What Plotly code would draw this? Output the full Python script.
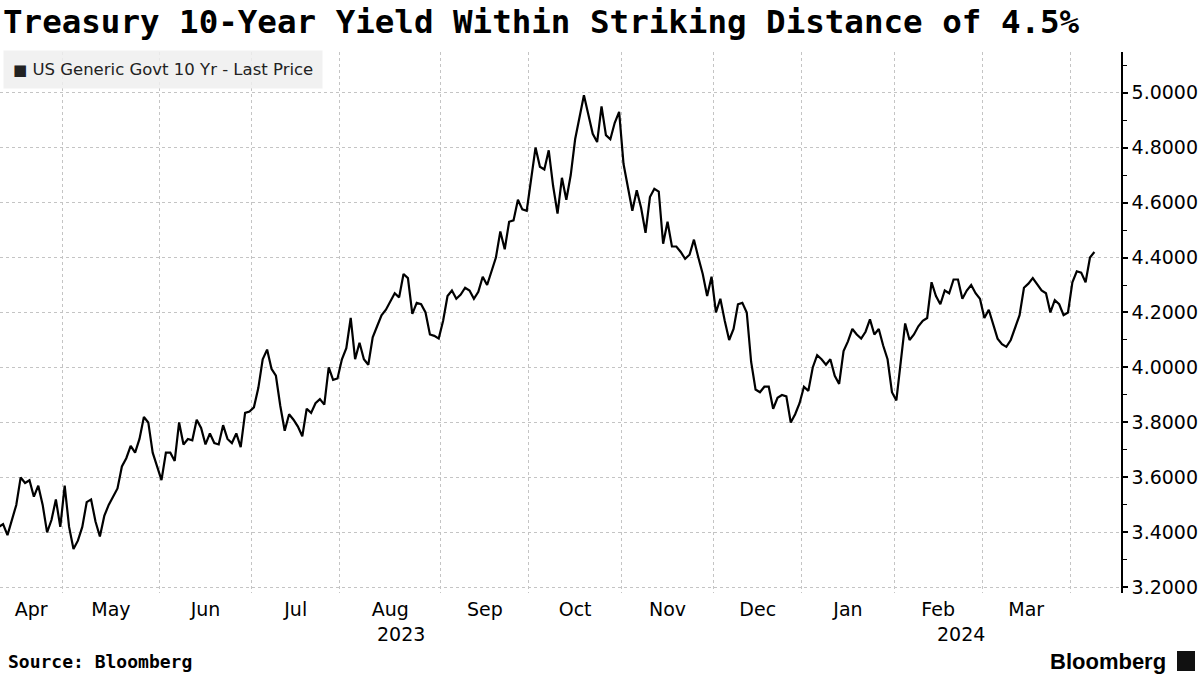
import plotly.graph_objects as go
import numpy as np

# US Generic Govt 10 Yr, daily closes (trading days)
apr_2023 = [3.42, 3.43, 3.39, 3.45, 3.50, 3.60, 3.58, 3.59, 3.53, 3.57, 3.50, 3.40, 3.445, 3.52, 3.42]
may_2023 = [3.57, 3.42, 3.34, 3.37, 3.42, 3.51, 3.52, 3.44, 3.385, 3.46, 3.50, 3.53, 3.56, 3.64, 3.67,
            3.715, 3.69, 3.74, 3.82, 3.80, 3.69, 3.64]
jun_2023 = [3.59, 3.69, 3.69, 3.66, 3.80, 3.72, 3.74, 3.735, 3.81, 3.78, 3.72, 3.76, 3.725, 3.72, 3.79,
            3.74, 3.725, 3.76, 3.71, 3.835, 3.84]
jul_2023 = [3.855, 3.925, 4.03, 4.065, 3.995, 3.97, 3.86, 3.77, 3.83, 3.81, 3.785, 3.75, 3.85, 3.835,
            3.87, 3.885, 3.865, 4.00, 3.955, 3.96]
aug_2023 = [4.03, 4.07, 4.18, 4.03, 4.09, 4.03, 4.01, 4.11, 4.15, 4.19, 4.21, 4.24, 4.27, 4.255, 4.34,
            4.325, 4.195, 4.235, 4.23, 4.20, 4.12, 4.115, 4.105]
sep_2023 = [4.17, 4.26, 4.28, 4.25, 4.265, 4.29, 4.28, 4.25, 4.275, 4.33, 4.30, 4.35, 4.40, 4.495, 4.43,
            4.53, 4.535, 4.61, 4.575, 4.57]
oct_2023 = [4.68, 4.80, 4.73, 4.72, 4.79, 4.66, 4.56, 4.69, 4.61, 4.70, 4.83, 4.91, 4.99, 4.92, 4.85,
            4.82, 4.95, 4.845, 4.83, 4.89, 4.93]
nov_2023 = [4.74, 4.66, 4.57, 4.645, 4.58, 4.49, 4.62, 4.65, 4.64, 4.45, 4.53, 4.44, 4.44, 4.42, 4.395,
            4.41, 4.465, 4.40, 4.34, 4.26, 4.33]
dec_2023 = [4.20, 4.25, 4.17, 4.10, 4.14, 4.23, 4.235, 4.20, 4.02, 3.92, 3.91, 3.93, 3.93, 3.85, 3.89,
            3.90, 3.895, 3.80, 3.83, 3.87]
jan_2024 = [3.93, 3.915, 4.00, 4.045, 4.03, 4.01, 4.03, 3.97, 3.94, 4.06, 4.095, 4.14, 4.12, 4.105,
            4.13, 4.175, 4.12, 4.14, 4.08, 4.03, 3.91]
feb_2024 = [3.88, 4.02, 4.16, 4.10, 4.12, 4.15, 4.17, 4.18, 4.31, 4.26, 4.23, 4.28, 4.27, 4.32, 4.32,
            4.25, 4.28, 4.30, 4.27, 4.25]
mar_2024 = [4.18, 4.21, 4.16, 4.105, 4.085, 4.075, 4.10, 4.145, 4.19, 4.29, 4.305, 4.325, 4.30, 4.28,
            4.27, 4.20, 4.245, 4.23, 4.19, 4.20]
apr_2024 = [4.31, 4.35, 4.345, 4.31, 4.40, 4.42]

month_names = ["Apr", "May", "Jun", "Jul", "Aug", "Sep", "Oct", "Nov", "Dec", "Jan", "Feb", "Mar", "Apr"]
month_years = [2023] * 9 + [2024] * 4
y_ticks = [3.2, 3.4, 3.6, 3.8, 4.0, 4.2, 4.4, 4.6, 4.8, 5.0]

series = [apr_2023, may_2023, jun_2023, jul_2023, aug_2023, sep_2023, oct_2023,
          nov_2023, dec_2023, jan_2024, feb_2024, mar_2024, apr_2024]

yields = [v for m in series for v in m]
idx = list(range(len(yields)))

# month boundaries sit between the last day of one month and the first of the next
starts = np.cumsum([0] + [len(m) for m in series[:-1]])
bounds = [float(s) - 0.5 for s in starts[1:]]
x_lo, x_hi = 0.3, 255.05
edges = [x_lo] + bounds + [x_hi]
mids = [(edges[k] + edges[k + 1]) / 2 for k in range(len(series))]
# last (partial) month is not labelled
lab_pos = mids[:-1]
lab_txt = month_names[:-1]

year_split = bounds[month_years.index(2024) - 1]
year_pos = [(x_lo + year_split) / 2, (year_split + x_hi) / 2]

PLOT_TOP, PLOT_BOT = 52, 593
PLOT_R = 1121
H = PLOT_BOT - PLOT_TOP


def py(pix):
    return (PLOT_BOT - pix) / H


fig = go.Figure()
fig.add_trace(go.Scatter(x=idx, y=yields, mode="lines",
                         line=dict(color="black", width=2.2),
                         showlegend=False, hoverinfo="y"))

fig.update_layout(
    width=1200, height=675,
    margin=dict(l=0, r=1200 - PLOT_R, t=PLOT_TOP, b=675 - PLOT_BOT),
    paper_bgcolor="white", plot_bgcolor="white",
    font=dict(family="DejaVu Sans", color="black"),
    title=dict(text="<b>Treasury 10-Year Yield Within Striking Distance of 4.5%</b>",
               x=0.0025, xref="container", xanchor="left",
               y=1 - 22 / 675, yref="container", yanchor="middle",
               font=dict(family="DejaVu Sans Mono", size=32.5, color="black")),
    xaxis=dict(range=[x_lo, x_hi], tickmode="array", tickvals=lab_pos, ticktext=lab_txt,
               ticks="", showgrid=False, zeroline=False, showline=False,
               ticklabelstandoff=3,
               tickfont=dict(size=19, color="black"),
               minor=dict(tickmode="array", tickvals=bounds, showgrid=True,
                          gridcolor="#c4c4c4", griddash="dot", gridwidth=1, ticks="")),
    yaxis=dict(side="right", range=[3.1797, 5.1475], tickmode="array", tickvals=y_ticks,
               tickformat=".4f", ticks="outside", ticklen=5, tickwidth=1.5, tickcolor="black",
               showline=True, linecolor="black", linewidth=1.5, zeroline=False,
               showgrid=True, gridcolor="#c4c4c4", griddash="dot", gridwidth=1,
               tickfont=dict(size=19, color="black"),
               minor=dict(dtick=0.1, tick0=3.2, ticks="outside", ticklen=4, tickwidth=1,
                          tickcolor="black", showgrid=False)),
)

annotations = [
    dict(text='<span style="font-size:15px">■</span> US Generic Govt 10 Yr - Last Price',
         xref="paper", yref="paper", x=3 / PLOT_R, y=py(70), xanchor="left", yanchor="middle",
         showarrow=False, bgcolor="rgba(238,238,238,0.85)", borderpad=9,
         font=dict(family="DejaVu Sans", size=16.5, color="#222")),
    dict(text="<b>Source: Bloomberg</b>", xref="paper", yref="paper", x=6 / PLOT_R, y=py(661),
         xanchor="left", yanchor="middle", showarrow=False,
         font=dict(family="DejaVu Sans Mono", size=18, color="black")),
    dict(text="<b>Bloomberg</b>", xref="paper", yref="paper", x=1168 / PLOT_R, y=py(661),
         xanchor="right", yanchor="middle", showarrow=False,
         font=dict(family="Liberation Sans", size=22, color="black")),
]
for yr, pos in zip(["2023", "2024"], year_pos):
    annotations.append(dict(text=yr, xref="x", yref="paper", x=pos, y=py(634),
                            xanchor="center", yanchor="middle", showarrow=False,
                            font=dict(family="DejaVu Sans", size=19, color="black")))
fig.update_layout(annotations=annotations)

# small logo mark next to the wordmark
fig.add_shape(type="rect", xref="paper", yref="paper",
              x0=1177 / PLOT_R, x1=1195 / PLOT_R, y0=py(671), y1=py(651),
              fillcolor="#111", line=dict(width=0))

fig.write_html("out.html", config={"displayModeBar": False},
               post_script="document.body.style.margin='0px';")
